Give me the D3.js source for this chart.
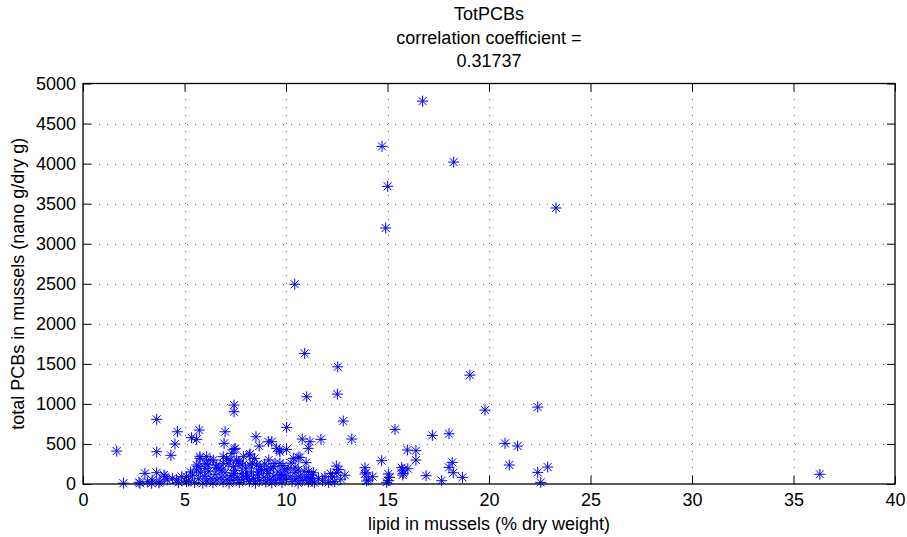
<!DOCTYPE html>
<html>
<head>
<meta charset="utf-8">
<script src="https://cdn.jsdelivr.net/npm/d3@7"></script>
<style>
  html, body { margin: 0; padding: 0; background: #fff; }
  svg { display: block; }
  text { font-family: "Liberation Sans", Arial, Helvetica, sans-serif; fill: #000; }
</style>
</head>
<body>
<script>
// Lipid content (% dry weight) and total PCBs (nano g / dry g) per mussel sample
const lipid = [
  16.73, 14.73, 18.26, 15.01, 23.3, 14.91, 10.43, 10.92, 12.55, 19.06,
  22.4, 19.8, 11.02, 12.53, 7.44, 7.44, 12.82, 3.63, 15.37, 10.03,
  17.21, 18.03, 20.79, 21.41, 21.0, 22.4, 22.89, 22.55, 36.3, 1.66, 1.99,
  3.63, 4.33, 4.53, 4.65, 5.35, 5.6, 5.73, 7.0, 6.95, 7.44,
  8.52, 8.68, 9.13, 9.3, 9.67, 10.03, 8.23, 10.8, 11.18, 11.72,
  13.24, 11.1, 10.6, 10.99, 15.98, 16.4, 16.4, 14.71, 18.19, 18.03,
  18.24, 18.69, 16.9, 17.67, 16.0, 15.75, 15.75, 15.7, 12.48, 12.5,
  12.3, 12.7, 12.4, 12.9, 12.6, 13.89, 13.94, 13.89, 13.97, 14.27,
  14.05, 15.04, 15.1, 14.96, 15.04, 15.78, 11.92, 11.27, 11.1, 10.6,
  9.95, 9.46, 9.54, 9.7, 10.36, 10.69, 9.7, 9.37, 9.05, 8.72,
  8.23, 7.73, 7.57, 7.08, 6.91, 6.42, 6.09, 6.01, 5.76, 5.68,
  5.6, 5.6, 6.01, 6.59, 7.41, 7.33, 7.49, 7.9, 7.65, 8.56,
  8.19, 6.26, 6.91, 5.76, 4.86, 5.1, 5.1, 3.05, 3.63, 4.04,
  3.99, 2.81, 2.76, 3.17, 3.38, 3.41, 3.79, 3.74, 4.15, 4.4,
  4.61, 4.7,
  5.2, 5.4, 5.5, 5.7, 5.8, 5.9, 6.0, 6.1, 6.2, 6.3,
  6.4, 6.5, 6.6, 6.7, 6.8, 6.9, 7.0, 7.1, 7.2, 7.3,
  7.4, 7.5, 7.6, 7.7, 7.8, 7.9, 8.0, 8.1, 8.2, 8.3,
  8.4, 8.5, 8.6, 8.7, 8.8, 8.9, 9.0, 9.1, 9.2, 9.3,
  9.4, 9.5, 9.6, 9.7, 9.8, 9.9, 10.0, 10.1, 10.2, 10.3,
  10.4, 10.5, 10.6, 10.7, 10.8, 10.9, 11.0, 11.1, 11.2, 11.3,
  11.4, 6.55, 7.15, 7.85, 8.35, 8.95, 9.85, 10.25, 6.85, 7.45,
  8.05, 8.65, 9.25, 9.75, 10.45, 5.3, 6.15, 11.35, 11.6, 11.8,
  12.1, 12.2, 7.25, 8.45, 9.15
];
const totPCBs = [
  4780, 4215, 4019, 3716, 3446, 3196, 2494, 1630, 1463, 1359,
  960, 923, 1089, 1122, 985, 902, 786, 807, 682, 707,
  607, 627, 507, 474, 237, 145, 212, 20, 121, 411, 10,
  403, 358, 499, 652, 578, 557, 673, 652, 507, 432,
  590, 474, 528, 528, 424, 432, 374, 561, 528, 557,
  561, 445, 333, 266, 424, 415, 299, 291, 270, 208,
  141, 83, 104, 41, 191, 175, 112, 204, 224, 141,
  90, 60, 30, 110, 180, 204, 141, 125, 37, 91,
  50, 125, 83, 21, 42, 133, 91, 112, 154, 175,
  175, 258, 445, 403, 320, 333, 258, 216, 175, 216,
  237, 258, 299, 320, 258, 299, 341, 258, 320, 216,
  175, 237, 195, 237, 216, 383, 445, 341, 278, 237,
  362, 299, 341, 341, 91, 29, 91, 133, 141, 91,
  112, 9, 21, 29, 9, 50, 29, 15, 50, 71,
  50, 20,
  40, 110, 20, 65, 140, 10, 95, 35, 160, 70,
  15, 120, 50, 190, 85, 25, 140, 60, 10, 105,
  45, 170, 80, 20, 130, 55, 200, 95, 30, 150,
  70, 10, 115, 45, 180, 85, 25, 130, 60, 15,
  100, 40, 150, 75, 20, 110, 55, 190, 90, 30,
  140, 65, 10, 100, 45, 160, 80, 25, 60, 35,
  15, 210, 250, 235, 260, 250, 230, 260, 175, 130,
  110, 150, 190, 120, 210, 150, 240, 140, 70, 40,
  20, 130, 300, 320, 300
];
const xTicks = [0, 5, 10, 15, 20, 25, 30, 35, 40];
const yTicks = [0, 500, 1000, 1500, 2000, 2500, 3000, 3500, 4000, 4500, 5000];
const titleLines = ["TotPCBs", "correlation coefficient =", "0.31737"];
const xLabel = "lipid in mussels (% dry weight)";
const yLabel = "total PCBs in mussels (nano g/dry g)";

const W = 907, H = 537;
const plot = { left: 83, right: 895, top: 83.5, bottom: 484 };
const fontSize = 18;

const svg = d3.select("body").append("svg")
  .attr("width", W).attr("height", H);

const x = d3.scaleLinear().domain([0, 40]).range([plot.left, plot.right]);
const y = d3.scaleLinear().domain([0, 5000]).range([plot.bottom, plot.top]);

// dotted grid lines
const grid = svg.append("g")
  .attr("stroke", "#333").attr("stroke-width", 1)
  .attr("stroke-dasharray", "1,7").attr("opacity", 0.7);
grid.selectAll("line.gx").data(xTicks.slice(1, -1)).join("line")
  .attr("x1", d => Math.round(x(d)) + 0.5).attr("x2", d => Math.round(x(d)) + 0.5)
  .attr("y1", plot.bottom).attr("y2", plot.top);
grid.selectAll("line.gy").data(yTicks.slice(1, -1)).join("line")
  .attr("y1", d => Math.round(y(d)) + 0.5).attr("y2", d => Math.round(y(d)) + 0.5)
  .attr("x1", plot.left).attr("x2", plot.right);

// asterisk markers
const r = 5.5, dg = 4;
const star = `M${-r},0L${r},0M0,${-r}L0,${r}M${-dg},${-dg}L${dg},${dg}M${-dg},${dg}L${dg},${-dg}`;
svg.append("g")
  .attr("fill", "none").attr("stroke", "#0000ff").attr("stroke-width", 1)
  .selectAll("path").data(lipid.map((v, i) => [v, totPCBs[i]])).join("path")
  .attr("transform", d => `translate(${x(d[0])},${y(d[1])})`)
  .attr("d", star);

// axes with inward ticks on all four sides
const tickLen = 8;
const fmt = d3.format("d");
const bottomAxis = svg.append("g").attr("transform", `translate(0,${plot.bottom})`)
  .call(d3.axisBottom(x).tickValues(xTicks).tickFormat(fmt).tickSizeInner(-tickLen).tickSizeOuter(0).tickPadding(9));
const topAxis = svg.append("g").attr("transform", `translate(0,${plot.top})`)
  .call(d3.axisTop(x).tickValues(xTicks).tickSizeInner(-tickLen).tickSizeOuter(0).tickFormat(""));
const leftAxis = svg.append("g").attr("transform", `translate(${plot.left},0)`)
  .call(d3.axisLeft(y).tickValues(yTicks).tickFormat(fmt).tickSizeInner(-tickLen).tickSizeOuter(0).tickPadding(7));
const rightAxis = svg.append("g").attr("transform", `translate(${plot.right},0)`)
  .call(d3.axisRight(y).tickValues(yTicks).tickSizeInner(-tickLen).tickSizeOuter(0).tickFormat(""));

[bottomAxis, topAxis, leftAxis, rightAxis].forEach(g => {
  g.select(".domain").remove();
  g.selectAll(".tick line").attr("stroke", "#000");
  g.selectAll("text").attr("font-size", fontSize)
    .attr("font-family", "'Liberation Sans', Arial, sans-serif").attr("fill", "#000");
});

// frame
svg.append("rect")
  .attr("x", plot.left).attr("y", plot.top)
  .attr("width", plot.right - plot.left).attr("height", plot.bottom - plot.top)
  .attr("fill", "none").attr("stroke", "#000").attr("stroke-width", 1.3);

// title
const cx = (plot.left + plot.right) / 2;
svg.append("g").selectAll("text").data(titleLines).join("text")
  .attr("x", cx).attr("y", (d, i) => 20 + i * 23.5)
  .attr("text-anchor", "middle").attr("font-size", fontSize)
  .text(d => d);

// axis labels
svg.append("text")
  .attr("x", cx).attr("y", 530)
  .attr("text-anchor", "middle").attr("font-size", fontSize)
  .text(xLabel);
svg.append("text")
  .attr("transform", `translate(24,${(plot.top + plot.bottom) / 2}) rotate(-90)`)
  .attr("text-anchor", "middle").attr("font-size", fontSize)
  .text(yLabel);
</script>
</body>
</html>
